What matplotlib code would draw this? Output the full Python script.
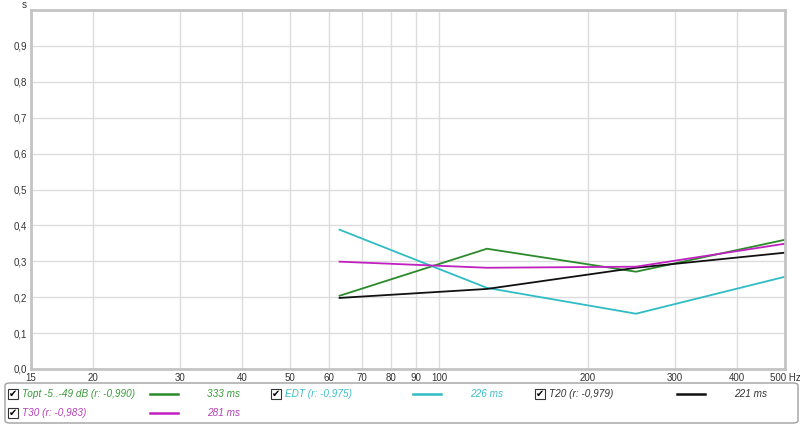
import numpy as np
import matplotlib
matplotlib.use("Agg")
import matplotlib.pyplot as plt
from matplotlib.lines import Line2D
from matplotlib.patches import Rectangle, FancyBboxPatch

plt.rcParams['font.family'] = ['Liberation Sans', 'DejaVu Sans']

# data
freqs = [63, 125, 250, 500]
topt = [0.204, 0.335, 0.271, 0.360]
edt = [0.388, 0.226, 0.154, 0.257]
t20 = [0.198, 0.223, 0.282, 0.324]
t30 = [0.299, 0.282, 0.285, 0.349]

x_ticks = [15, 20, 30, 40, 50, 60, 70, 80, 90, 100, 200, 300, 400, 500]
x_labels = ["15", "20", "30", "40", "50", "60", "70", "80", "90", "100",
            "200", "300", "400", "500 Hz"]
y_ticks = [0.0, 0.1, 0.2, 0.3, 0.4, 0.5, 0.6, 0.7, 0.8, 0.9]
y_labels = ["0,0", "0,1", "0,2", "0,3", "0,4", "0,5", "0,6", "0,7", "0,8", "0,9"]

series = [
    ("Topt -5..-49 dB (r: -0,990)", "333 ms", topt, "#2b8a2b", "#3a9a3a"),
    ("EDT (r: -0,975)", "226 ms", edt, "#2fbcc4", "#3cbfc8"),
    ("T20 (r: -0,979)", "221 ms", t20, "#111111", "#333333"),
    ("T30 (r: -0,983)", "281 ms", t30, "#c020c0", "#b640b6"),
]

W, H = 800, 425
fig = plt.figure(figsize=(W / 100, H / 100), dpi=100)
ax = fig.add_axes([31 / W, 1 - 369 / H, (785 - 31) / W, (369 - 10) / H])

for name, val, ys, col, tcol in series:
    ax.plot(freqs, ys, color=col, lw=1.3)

ax.set_xscale("log")
ax.set_xlim(15, 500)
ax.set_ylim(0, 1.0)
ax.set_xticks(x_ticks)
ax.set_xticklabels(x_labels)
ax.xaxis.set_minor_locator(matplotlib.ticker.NullLocator())
ax.set_yticks(y_ticks)
ax.set_yticklabels(y_labels)
ax.tick_params(length=0, labelsize=7, colors="#333333", pad=3)
ax.grid(True, color="#dcdcdc", lw=1)
ax.set_axisbelow(True)
for sp in ax.spines.values():
    sp.set_color("#c4c4c4")
    sp.set_linewidth(2)

fig.text(24 / W, 1 - 5 / H, "s", fontsize=7, color="#333333", ha="center", va="center")

# legend box
box = FancyBboxPatch((5 / W, 1 - 423 / H), 793 / W, 40 / H,
                     boxstyle="round,pad=0,rounding_size=0.006",
                     transform=fig.transFigure, fc="white", ec="#a0a0a0", lw=1)
fig.patches.append(box)

cols = [13, 276, 540]
positions = [(cols[0], 394), (cols[1], 394), (cols[2], 394), (cols[0], 413)]
for (name, val, ys, col, tcol), (cx, cy) in zip(series, positions):
    r = Rectangle(((cx - 5) / W, 1 - (cy + 5) / H), 10 / W, 10 / H,
                  transform=fig.transFigure, fc="white", ec="#333333", lw=0.8)
    fig.patches.append(r)
    fig.text(cx / W, 1 - cy / H, "\u2714", fontsize=7, color="black",
             family="DejaVu Sans", ha="center", va="center")
    fig.text((cx + 9) / W, 1 - cy / H, name, fontsize=7.2, color=tcol,
             style="italic", ha="left", va="center")
    fig.lines.append(Line2D([(cx + 137) / W, (cx + 165) / W], [1 - cy / H, 1 - cy / H],
                            transform=fig.transFigure, color=col, lw=1.8))
    fig.text((cx + 227) / W, 1 - cy / H, val, fontsize=7.2, color=tcol,
             style="italic", ha="right", va="center")

fig.savefig("out.png", dpi=100)
